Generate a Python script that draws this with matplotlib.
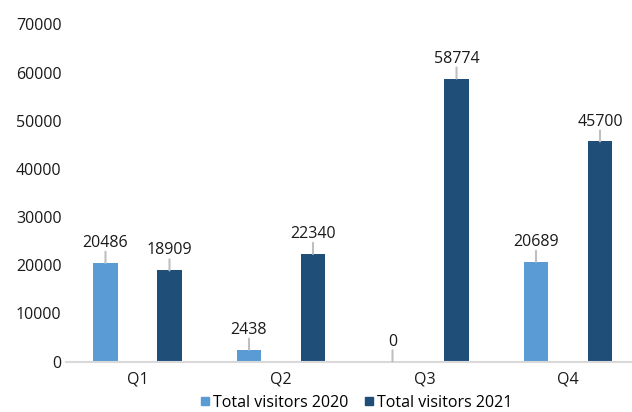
import matplotlib.pyplot as plt
import numpy as np
from matplotlib.lines import Line2D

plt.rcParams['font.family'] = ['Open Sans', 'DejaVu Sans']

quarters = ['Q1', 'Q2', 'Q3', 'Q4']
visitors_2020 = [20486, 2438, 0, 20689]
visitors_2021 = [18909, 22340, 58774, 45700]
series_names = ['Total visitors 2020', 'Total visitors 2021']
colors = ['#5B9BD5', '#1F4E79']

fig = plt.figure(figsize=(6.32, 4.12), dpi=100)
ax = fig.add_axes([65.75 / 632, 50.5 / 412, 574 / 632, 337 / 412])

x = np.arange(len(quarters))
width = 0.174
offset = 0.223

for vals, shift, col in zip([visitors_2020, visitors_2021], [-offset, offset], colors):
    xs = x + shift
    ax.bar(xs, vals, width=width, color=col, zorder=2)
    for xi, v in zip(xs, vals):
        # short gray leader line from bar top to the label
        ax.annotate('', xy=(xi, v), xytext=(0, 8), textcoords='offset points',
                    arrowprops=dict(arrowstyle='-', color='#BFBFBF', lw=1.5,
                                    shrinkA=0, shrinkB=0))
        ax.annotate(str(v), xy=(xi, v), xytext=(0, 11.5), textcoords='offset points',
                    ha='center', va='baseline', fontsize=11.5, color='#1a1a1a')

ax.set_xlim(-0.5, 3.5)
ax.set_ylim(0, 70000)
ax.set_yticks(range(0, 70001, 10000))
ax.set_xticks(x)
ax.set_xticklabels(quarters)
ax.tick_params(axis='both', length=0, labelsize=11.5, colors='#1a1a1a')
ax.tick_params(axis='x', pad=7)
ax.tick_params(axis='y', pad=3)

for side in ['top', 'right', 'left']:
    ax.spines[side].set_visible(False)
ax.spines['bottom'].set_color('#D9D9D9')
ax.spines['bottom'].set_linewidth(1.5)

handles = [Line2D([], [], marker='s', linestyle='none', color=c, markersize=5.5)
           for c in colors]
fig.legend(handles, series_names, loc='center', bbox_to_anchor=(356 / 632, 9 / 412),
           ncol=2, frameon=False, fontsize=11.5, handlelength=0.6,
           handletextpad=0.2, columnspacing=1.0, borderaxespad=0, borderpad=0)

fig.savefig('out.png', dpi=100)
